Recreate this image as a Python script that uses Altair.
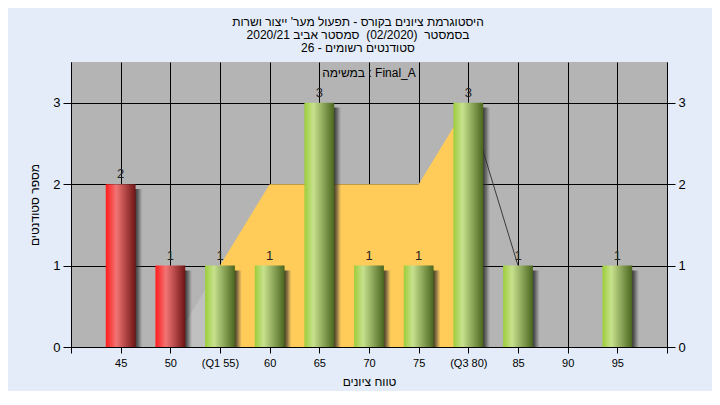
import altair as alt
import pandas as pd

# ---- data ----
bins = [45, 50, 55, 60, 65, 70, 75, 80, 85, 90, 95]
counts = [2, 1, 1, 1, 3, 1, 1, 3, 1, 0, 1]
groups = ["fail", "fail", "pass", "pass", "pass", "pass", "pass", "pass", "pass", "pass", "pass"]

tick_values = [40, 45, 50, 55, 60, 65, 70, 75, 80, 85, 90, 95, 100]
tick_labels = ["", "45", "50", "(Q1 55)", "60", "65", "70", "75", "(Q3 80)", "85", "90", "95", ""]

lead_x = [50, 55]
lead_y = [0, 1]
band_x = [55, 60, 75, 80]
band_y = [1, 2, 2, 3]
tail_x = [80, 85]
tail_y = [3, 1]

title_lines = [
    "היסטוגרמת ציונים בקורס - תפעול מער' ייצור ושרות",
    "בסמסטר \u00a0(02/2020) \u00a0סמסטר אביב 2020/21",
    "סטודנטים רשומים - 26",
]
task_label = "במשימה : Final_A"
x_title = "טווח ציונים"
y_title = "מספר סטודנטים"

FONT = "Liberation Sans, DejaVu Sans, sans-serif"

bars = pd.DataFrame({"bin": bins, "count": counts, "group": groups})
lead = pd.DataFrame({"x": lead_x, "y": lead_y})
band = pd.DataFrame({"x": band_x, "y": band_y})
tail = pd.DataFrame({"x": tail_x, "y": tail_y})
note = pd.DataFrame({"x": [70], "y": [3.36], "t": [task_label]})

label_expr = "".join(
    f"datum.value == {v} ? '{l}' : " for v, l in zip(tick_values, tick_labels)
) + "''"

xscale = alt.Scale(domain=[40, 100], nice=False, zero=False)
yscale = alt.Scale(domain=[0, 3.5], nice=False)

x_axis = alt.Axis(
    values=tick_values, labelExpr=label_expr, grid=True, gridColor="#000000",
    gridOpacity=1, tickColor="#000000", tickSize=6, domainColor="#000000",
    labelColor="#000000", labelFontSize=11, labelFont=FONT, labelPadding=4,
    title=x_title, titleFont=FONT, titleFontSize=12, titleFontWeight="normal",
    titleColor="#000000", titlePadding=8, labelFlush=False,
)
y_axis_left = alt.Axis(
    values=[0, 1, 2, 3], grid=True, gridColor="#000000", gridOpacity=1,
    tickColor="#000000", tickSize=8, domainColor="#000000", labelColor="#000000",
    labelFontSize=13, labelFont=FONT, labelPadding=3, title=y_title,
    titleFont=FONT, titleFontSize=12, titleFontWeight="normal",
    titleColor="#000000", titlePadding=11, orient="left",
)
y_axis_right = alt.Axis(
    values=[0, 1, 2, 3], grid=False, tickColor="#000000", tickSize=8,
    domainColor="#000000", labelColor="#000000", labelFontSize=13,
    labelFont=FONT, labelPadding=3, title=None, orient="right",
)

lead_layer = alt.Chart(lead).mark_area(color="#c0c0c0").encode(
    x=alt.X("x:Q", scale=xscale, axis=x_axis),
    y=alt.Y("y:Q", scale=yscale, axis=y_axis_left),
)
band_layer = alt.Chart(band).mark_area(color="#ffcc5a").encode(
    x=alt.X("x:Q", scale=xscale),
    y=alt.Y("y:Q", scale=yscale, axis=None),
)
tail_layer = alt.Chart(tail).mark_line(color="#3a3a3a", strokeWidth=1).encode(
    x=alt.X("x:Q", scale=xscale),
    y=alt.Y("y:Q", scale=yscale, axis=None),
)

shadow_grad = alt.LinearGradient(
    gradient="linear", x1=0, y1=0, x2=1, y2=0,
    stops=[
        alt.GradientStop(offset=0, color="rgba(25,25,25,0.9)"),
        alt.GradientStop(offset=0.5, color="rgba(50,50,50,0.55)"),
        alt.GradientStop(offset=1, color="rgba(90,90,90,0)"),
    ],
)
shadow_layer = alt.Chart(bars).transform_filter("datum.count > 0").transform_calculate(
    lo="datum.bin + 1.4", hi="datum.bin + 2.2", top="datum.count - 0.06"
).mark_bar(color=shadow_grad).encode(
    x=alt.X("lo:Q", scale=xscale), x2="hi:Q",
    y=alt.Y("top:Q", scale=yscale, axis=None), y2=alt.datum(0),
)

red_grad = alt.LinearGradient(
    gradient="linear", x1=0, y1=0, x2=1, y2=0,
    stops=[
        alt.GradientStop(offset=0, color="#ff1c1c"),
        alt.GradientStop(offset=0.35, color="#f27474"),
        alt.GradientStop(offset=1, color="#6e1414"),
    ],
)
green_grad = alt.LinearGradient(
    gradient="linear", x1=0, y1=0, x2=1, y2=0,
    stops=[
        alt.GradientStop(offset=0, color="#9ccd3a"),
        alt.GradientStop(offset=0.3, color="#c7e18e"),
        alt.GradientStop(offset=1, color="#4a661e"),
    ],
)

def bar_layer(group, grad):
    return alt.Chart(bars).transform_filter(
        f"datum.group == '{group}' && datum.count > 0"
    ).transform_calculate(
        lo="datum.bin - 1.5", hi="datum.bin + 1.5"
    ).mark_bar(color=grad).encode(
        x=alt.X("lo:Q", scale=xscale), x2="hi:Q",
        y=alt.Y("count:Q", scale=yscale, axis=None), y2=alt.datum(0),
    )

red_layer = bar_layer("fail", red_grad)
green_layer = bar_layer("pass", green_grad)

value_layer = alt.Chart(bars).transform_filter("datum.count > 0").mark_text(
    font=FONT, fontSize=13, color="#222222", dy=-6, baseline="alphabetic"
).encode(
    x=alt.X("bin:Q", scale=xscale),
    y=alt.Y("count:Q", scale=yscale, axis=None),
    text="count:Q",
)

note_layer = alt.Chart(note).mark_text(
    font=FONT, fontSize=12, color="#000000"
).encode(
    x=alt.X("x:Q", scale=xscale),
    y=alt.Y("y:Q", scale=yscale, axis=None),
    text="t:N",
)

right_axis_layer = alt.Chart(bars).mark_point(opacity=0).encode(
    x=alt.X("bin:Q", scale=xscale),
    y=alt.Y("count:Q", scale=yscale, axis=y_axis_right),
)

chart = alt.layer(
    lead_layer, band_layer, tail_layer, shadow_layer, red_layer, green_layer,
    value_layer, note_layer, right_axis_layer,
).resolve_axis(y="independent").properties(
    width=596, height=285,
    autosize=alt.AutoSizeParams(type="none"),
    padding={"left": 63, "top": 54, "right": 45, "bottom": 44},
    background="#e3ecf8",
    title=alt.TitleParams(
        text=title_lines, font=FONT, fontSize=12, fontWeight="normal",
        color="#000000", lineHeight=13, anchor="middle", offset=7, dx=-11,
    ),
).configure_view(fill="#b4b4b4", stroke=None)

chart.save("out.html", embed_options={"renderer": "svg", "actions": False})
